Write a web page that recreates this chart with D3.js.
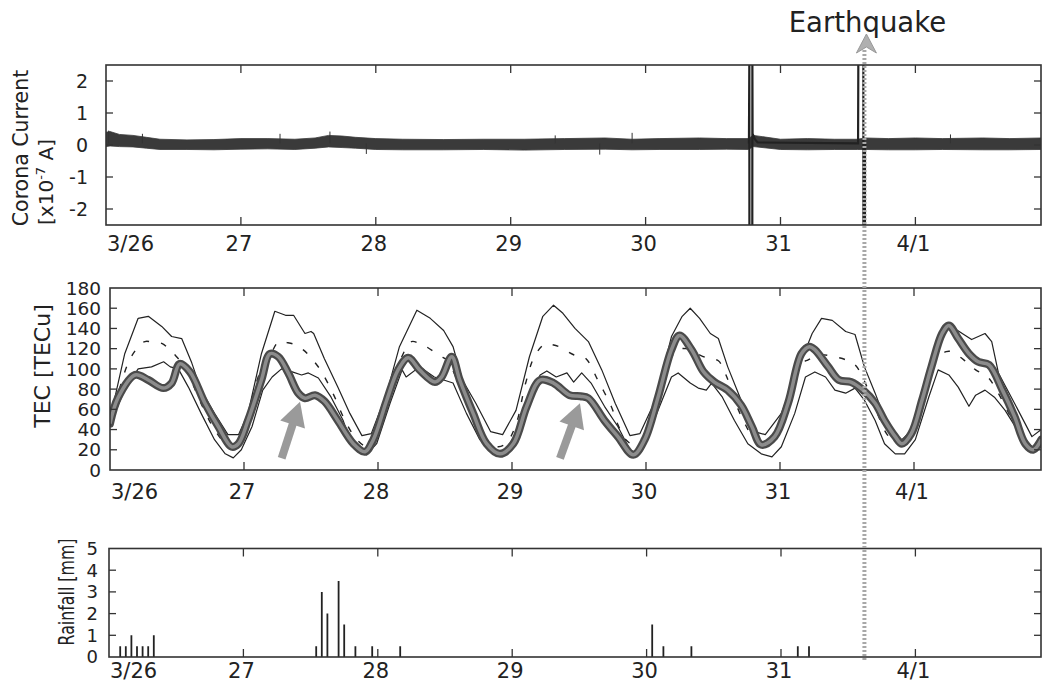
<!DOCTYPE html>
<html><head><meta charset="utf-8">
<script src="https://cdn.jsdelivr.net/npm/d3@7"></script>
<style>
body{margin:0;background:#fff}
svg{display:block}
text{font-family:"DejaVu Sans",Verdana,sans-serif;fill:#222}
</style>
</head><body>
<svg id="chart" width="1042" height="688"></svg>
<script>
// ---------------- DATA ----------------
const dayTicks = [0, 1, 2, 3, 4, 5, 6];            // days after 3/26 00:00
const dayLabels = ["3/26", "27", "28", "29", "30", "31", "4/1"];
const coronaTicks = [-2, -1, 0, 1, 2];
const tecTicks = [0, 20, 40, 60, 80, 100, 120, 140, 160, 180];
const rainTicks = [0, 1, 2, 3, 4, 5];

// Corona current noise band (x10^-7 A), envelope
const coronaDay  = [0, 0.03, 0.1, 0.2, 0.3, 0.4, 0.6, 0.8, 1.0, 1.2, 1.4, 1.55, 1.65, 1.75, 1.85, 2.0, 2.2, 2.5, 2.8, 3.1, 3.4, 3.7, 3.9, 4.1, 4.4, 4.6, 4.76, 4.8, 5.0, 5.2, 5.4, 5.57, 5.63, 5.8, 6.0, 6.2, 6.5, 6.7, 6.94];
const coronaHigh = [0.4, 0.42, 0.33, 0.3, 0.24, 0.18, 0.16, 0.17, 0.2, 0.2, 0.18, 0.22, 0.3, 0.28, 0.24, 0.2, 0.18, 0.17, 0.18, 0.18, 0.2, 0.22, 0.18, 0.2, 0.22, 0.2, 0.2, 0.3, 0.18, 0.2, 0.18, 0.18, 0.22, 0.2, 0.22, 0.2, 0.22, 0.2, 0.22];
const coronaLow  = [-0.05, -0.03, -0.05, -0.06, -0.1, -0.14, -0.14, -0.15, -0.13, -0.12, -0.14, -0.1, -0.06, -0.08, -0.1, -0.14, -0.15, -0.15, -0.14, -0.16, -0.14, -0.13, -0.15, -0.14, -0.14, -0.13, -0.14, -0.05, -0.14, -0.15, -0.14, -0.14, -0.14, -0.15, -0.15, -0.14, -0.15, -0.15, -0.14];
// isolated noise spikes [day, value]
const coronaBlips = [[0.02, 0.45], [0.27, 0.35], [1.29, 0.35], [1.66, 0.42], [1.93, -0.28], [3.33, 0.3], [3.66, -0.3], [3.9, 0.38], [6.26, 0.33]];
// saturated bursts (values beyond ±2.5 are off scale)
const burstDay = [4.766, 4.769, 4.7695, 4.791, 4.7915, 4.793, 4.81, 4.83, 5.575, 5.577, 5.614, 5.6145, 5.626, 5.6265, 5.64];
const burstVal = [0.05, 2.7, -2.7, -2.7, 2.7, 0.35, 0.18, 0.08, 0.05, 2.7, 2.7, -2.7, -2.7, 0.05, 0.05];

// TEC [TECu]  [day, value]
const tecObserved = [[0,46],[0.062,72],[0.187,94],[0.286,89],[0.398,81],[0.46,86],[0.52,105],[0.597,97],[0.709,66],[0.808,43],[0.908,23],[0.958,26],[1.03,49],[1.13,89],[1.194,115],[1.256,112],[1.33,96],[1.405,76],[1.455,71],[1.53,74],[1.6,68],[1.70,49],[1.816,26],[1.903,18],[1.965,30],[2.065,69],[2.15,99],[2.226,111],[2.31,99],[2.425,87],[2.475,92],[2.55,112],[2.61,89],[2.71,56],[2.81,26],[2.91,16],[3.01,26],[3.11,63],[3.21,89],[3.31,86],[3.43,74],[3.51,73],[3.57,71],[3.69,49],[3.79,33],[3.905,15],[3.99,30],[4.09,72],[4.19,119],[4.25,133],[4.34,119],[4.43,97],[4.51,87],[4.61,79],[4.71,64],[4.79,43],[4.86,25],[4.96,33],[5.06,66],[5.16,115],[5.22,122],[5.26,119],[5.36,102],[5.44,89],[5.53,87],[5.62,79],[5.71,66],[5.78,49],[5.86,33],[5.91,26],[5.98,36],[6.06,69],[6.13,102],[6.21,135],[6.26,143],[6.33,130],[6.41,115],[6.48,107],[6.56,104],[6.66,79],[6.75,53],[6.83,26],[6.89,20],[6.95,30]];
const tecMedian = [[0,45],[0.07,80],[0.14,107],[0.2,120],[0.26,127],[0.33,126],[0.39,125],[0.45,118],[0.49,113],[0.55,103],[0.62,84],[0.7,60],[0.78,40],[0.86,27],[0.93,25],[1.0,40],[1.07,76],[1.13,100],[1.19,112],[1.26,127],[1.32,126],[1.38,124],[1.44,119],[1.48,114],[1.57,99],[1.67,74],[1.75,50],[1.83,32],[1.9,24],[1.96,26],[2.03,45],[2.1,85],[2.17,110],[2.25,127],[2.31,125],[2.36,122],[2.46,113],[2.52,108],[2.58,92],[2.66,66],[2.74,44],[2.82,28],[2.9,23],[2.96,27],[3.03,45],[3.1,85],[3.17,113],[3.25,125],[3.3,124],[3.35,122],[3.46,114],[3.545,111],[3.64,89],[3.74,63],[3.79,45],[3.85,30],[3.92,24],[3.98,28],[4.05,50],[4.12,90],[4.19,112],[4.24,119],[4.3,120],[4.38,115],[4.47,110],[4.54,108],[4.6,93],[4.66,69],[4.73,48],[4.8,32],[4.88,25],[4.95,28],[5.03,48],[5.1,85],[5.16,105],[5.21,109],[5.3,114],[5.37,113],[5.49,109],[5.56,104],[5.66,79],[5.73,55],[5.8,35],[5.88,26],[5.95,30],[6.03,52],[6.1,90],[6.17,110],[6.24,117],[6.28,117],[6.39,107],[6.46,99],[6.55,92],[6.62,78],[6.7,58],[6.78,38],[6.86,24],[6.92,25],[6.95,28]];
const tecUpper = [[0.0,48],[0.01,56],[0.11,115],[0.21,150],[0.286,152],[0.386,142],[0.46,132],[0.535,130],[0.61,106],[0.68,79],[0.78,56],[0.88,35],[0.96,35],[1.03,56],[1.13,115],[1.23,157],[1.31,153],[1.37,153],[1.455,135],[1.5,137],[1.52,135],[1.60,110],[1.70,82],[1.79,56],[1.88,34],[1.95,36],[2.065,76],[2.16,122],[2.29,158],[2.39,150],[2.49,138],[2.56,122],[2.63,89],[2.73,66],[2.84,38],[2.93,35],[3.03,59],[3.13,112],[3.23,152],[3.31,163],[3.38,155],[3.47,140],[3.57,127],[3.67,99],[3.77,66],[3.88,34],[3.955,36],[4.07,69],[4.19,132],[4.27,152],[4.33,160],[4.40,150],[4.48,135],[4.54,130],[4.61,102],[4.71,69],[4.81,38],[4.89,35],[5.01,56],[5.14,102],[5.24,135],[5.31,150],[5.39,148],[5.49,137],[5.56,134],[5.63,102],[5.71,76],[5.81,41],[5.91,30],[6.01,43],[6.11,96],[6.21,138],[6.28,142],[6.36,135],[6.43,129],[6.53,135],[6.58,127],[6.63,96],[6.75,66],[6.88,33],[6.95,40]];
const tecLower = [[0.0,45],[0.01,49],[0.11,79],[0.21,100],[0.31,102],[0.40,107],[0.45,102],[0.51,100],[0.585,82],[0.68,56],[0.78,30],[0.86,16],[0.92,12],[0.98,20],[1.06,43],[1.14,79],[1.21,92],[1.28,100],[1.36,97],[1.43,94],[1.48,96],[1.555,91],[1.65,72],[1.74,49],[1.79,30],[1.915,15],[1.99,26],[2.09,66],[2.18,99],[2.21,92],[2.31,102],[2.42,92],[2.49,89],[2.56,86],[2.66,56],[2.76,30],[2.86,16],[2.93,15],[3.03,36],[3.13,72],[3.21,94],[3.26,98],[3.33,92],[3.41,96],[3.46,87],[3.52,96],[3.59,86],[3.69,63],[3.79,43],[3.88,20],[3.94,16],[4.02,36],[4.12,69],[4.19,92],[4.24,96],[4.33,86],[4.39,81],[4.45,79],[4.49,86],[4.57,72],[4.66,49],[4.76,26],[4.86,16],[4.94,13],[5.01,23],[5.11,56],[5.19,92],[5.26,97],[5.34,92],[5.41,79],[5.49,76],[5.56,81],[5.63,69],[5.71,49],[5.78,26],[5.86,16],[5.93,16],[6.01,30],[6.11,72],[6.18,99],[6.26,94],[6.33,82],[6.41,63],[6.46,74],[6.53,79],[6.60,72],[6.68,59],[6.77,40],[6.88,23],[6.95,23]];
// annotation arrows in TEC panel: [tailDay, tailVal, tipDay, tipVal]
const tecArrows = [[1.281, 11.6, 1.418, 67.5], [3.358, 11.6, 3.507, 66]];

// Rainfall: hour after 3/26 00:00, amount [mm]
const rainHour = [2, 3, 4, 5, 6, 7, 8, 37, 38, 39, 41, 42, 44, 47, 52, 97, 99, 104, 123, 125];
const rainMm   = [0.5, 0.5, 1, 0.5, 0.5, 0.5, 1, 0.5, 3, 2, 3.5, 1.5, 0.5, 0.5, 0.5, 1.5, 0.5, 0.5, 0.5, 0.5];

const quakeDay = 5.63;

// ---------------- LAYOUT ----------------
const svg = d3.select("#chart");
const P = {
  top: {left: 106, right: 1041, pxDay: 134.9, top: 65, bottom: 225},
  mid: {left: 110, right: 1041, pxDay: 134.0, top: 288, bottom: 470},
  bot: {left: 109, right: 1041, pxDay: 134.4, top: 548.5, bottom: 657}
};
function xScale(p) { return d3.scaleLinear().domain([0, 7]).range([p.left, p.left + 7 * p.pxDay]); }
const xT = xScale(P.top), xM = xScale(P.mid), xB = xScale(P.bot);
const yT = d3.scaleLinear().domain([-2.5, 2.5]).range([P.top.bottom, P.top.top]);
const yM = d3.scaleLinear().domain([0, 180]).range([P.mid.bottom, P.mid.top]);
const yB = d3.scaleLinear().domain([0, 5]).range([P.bot.bottom, P.bot.top]);

const defs = svg.append("defs");
function clip(id, p) {
  defs.append("clipPath").attr("id", id).append("rect")
    .attr("x", p.left).attr("y", p.top).attr("width", p.right - p.left).attr("height", p.bottom - p.top);
  return "url(#" + id + ")";
}

function frame(p, x, y, yTickVals, opts) {
  const g = svg.append("g");
  dayTicks.filter(d => d > 0).forEach(d => {
    g.append("line").attr("x1", x(d)).attr("x2", x(d)).attr("y1", p.bottom).attr("y2", p.bottom - 8)
      .attr("stroke", "#333").attr("stroke-width", 1.3);
    g.append("line").attr("x1", x(d)).attr("x2", x(d)).attr("y1", p.top).attr("y2", p.top + 8)
      .attr("stroke", "#333").attr("stroke-width", 1.3);
  });
  yTickVals.forEach(v => {
    g.append("line").attr("x1", p.left).attr("x2", p.left + 7).attr("y1", y(v)).attr("y2", y(v))
      .attr("stroke", "#333").attr("stroke-width", 1.3);
    g.append("line").attr("x1", p.right).attr("x2", p.right - 7).attr("y1", y(v)).attr("y2", y(v))
      .attr("stroke", "#333").attr("stroke-width", 1.3);
  });
  g.append("rect").attr("x", p.left).attr("y", p.top).attr("width", p.right - p.left).attr("height", p.bottom - p.top)
    .attr("fill", "none").attr("stroke", "#333").attr("stroke-width", 1.6);
  dayTicks.forEach((d, i) => {
    g.append("text").attr("x", i === 0 ? x(d) + 1 : x(d) - 2).attr("y", opts.xLabelY)
      .attr("text-anchor", i === 0 ? "start" : "middle").attr("font-size", 21).text(dayLabels[i]);
  });
  opts.yLabels.forEach(v => {
    g.append("text").attr("x", opts.yLabelX).attr("y", y(v)).attr("dy", "0.36em")
      .attr("text-anchor", "end").attr("font-size", opts.yFont).text(v);
  });
}

// ---------- Top panel: corona current ----------
const cTop = clip("clipTop", P.top);
const band = coronaDay.map((d, i) => ({d, hi: coronaHigh[i], lo: coronaLow[i]}));
const gTop = svg.append("g").attr("clip-path", cTop);
gTop.append("path").datum(band)
  .attr("d", d3.area().x(b => xT(b.d)).y0(b => yT(b.lo)).y1(b => yT(b.hi)))
  .attr("fill", "#3a3a3a").attr("stroke", "#3a3a3a").attr("stroke-width", 0.8);
coronaBlips.forEach(b => {
  gTop.append("line").attr("x1", xT(b[0])).attr("x2", xT(b[0])).attr("y1", yT(0.05)).attr("y2", yT(b[1]))
    .attr("stroke", "#333").attr("stroke-width", 1);
});
gTop.append("path").datum(burstDay.map((d, i) => [d, burstVal[i]]))
  .attr("d", d3.line().x(d => xT(d[0])).y(d => yT(d[1])))
  .attr("fill", "none").attr("stroke", "#222").attr("stroke-width", 2.2);
frame(P.top, xT, yT, coronaTicks, {xLabelY: 251, yLabelX: 88, yFont: 19, yLabels: coronaTicks.slice().reverse()});

svg.append("text").attr("transform", "translate(28,148) rotate(-90)").attr("text-anchor", "middle")
  .attr("font-size", 20.5).text("Corona Current");
const t2 = svg.append("text").attr("transform", "translate(53,182) rotate(-90)").attr("text-anchor", "middle")
  .attr("font-size", 20);
t2.append("tspan").text("[x10");
t2.append("tspan").attr("font-size", 13).attr("dy", -8).text("-7");
t2.append("tspan").attr("dy", 8).text(" A]");

// ---------- Middle panel: TEC ----------
const cMid = clip("clipMid", P.mid);
const gMid = svg.append("g").attr("clip-path", cMid);
const lineM = d3.line().x(d => xM(d[0])).y(d => yM(d[1]));
const smoothM = d3.line().x(d => xM(d[0])).y(d => yM(d[1])).curve(d3.curveCatmullRom.alpha(0.5));
[tecUpper, tecLower].forEach(s => {
  gMid.append("path").datum(s).attr("d", lineM).attr("fill", "none")
    .attr("stroke", "#222").attr("stroke-width", 1.2).attr("stroke-linejoin", "round");
});
gMid.append("path").datum(tecMedian).attr("d", smoothM).attr("fill", "none")
  .attr("stroke", "#222").attr("stroke-width", 1.4).attr("stroke-dasharray", "6,12");
gMid.append("path").datum(tecObserved).attr("d", smoothM).attr("fill", "none")
  .attr("stroke", "#4a4a4a").attr("stroke-width", 8).attr("stroke-linejoin", "round").attr("stroke-linecap", "round");
gMid.append("path").datum(tecObserved).attr("d", smoothM).attr("fill", "none")
  .attr("stroke", "#8c8c8c").attr("stroke-width", 3.5).attr("stroke-linejoin", "round");
tecArrows.forEach(a => {
  const x1 = xM(a[0]), y1 = yM(a[1]), x2 = xM(a[2]), y2 = yM(a[3]);
  const L = Math.hypot(x2 - x1, y2 - y1), ux = (x2 - x1) / L, uy = (y2 - y1) / L;
  const nx = -uy, ny = ux, hl = 24, hw = 13;
  gMid.append("line").attr("x1", x1).attr("y1", y1).attr("x2", x2 - ux * (hl - 4)).attr("y2", y2 - uy * (hl - 4))
    .attr("stroke", "#9a9a9a").attr("stroke-width", 8);
  const bx = x2 - ux * hl, by = y2 - uy * hl;
  gMid.append("path").attr("d", `M${x2},${y2}L${bx + nx * hw},${by + ny * hw}L${bx - nx * hw},${by - ny * hw}Z`)
    .attr("fill", "#9a9a9a");
});
frame(P.mid, xM, yM, tecTicks.slice(1, -1), {xLabelY: 499, yLabelX: 101, yFont: 18.5, yLabels: tecTicks});
svg.append("text").attr("transform", "translate(50,366) rotate(-90)").attr("text-anchor", "middle")
  .attr("font-size", 22).text("TEC [TECu]");

// ---------- Bottom panel: rainfall ----------
const cBot = clip("clipBot", P.bot);
const gBot = svg.append("g").attr("clip-path", cBot);
rainHour.forEach((h, i) => {
  gBot.append("line").attr("x1", xB(h / 24)).attr("x2", xB(h / 24)).attr("y1", yB(0)).attr("y2", yB(rainMm[i]))
    .attr("stroke", "#222").attr("stroke-width", 1.8);
});
frame(P.bot, xB, yB, rainTicks.slice(1, -1), {xLabelY: 678, yLabelX: 98, yFont: 18, yLabels: rainTicks});
const rainLabel = svg.append("text").attr("text-anchor", "middle").attr("font-size", 22).text("Rainfall [mm]");
const rainLen = rainLabel.node().getComputedTextLength() || 150;
rainLabel.attr("transform", `translate(74,592) rotate(-90) scale(${107 / rainLen},1)`);

// ---------- Earthquake marker ----------
const qx = xM(quakeDay);
svg.append("line").attr("x1", qx).attr("x2", qx).attr("y1", 50).attr("y2", 660)
  .attr("stroke", "#a8a8a8").attr("stroke-width", 4).attr("stroke-dasharray", "2,2");
svg.append("path").attr("d", `M${qx + 2},34L${qx + 12},53L${qx + 2},47L${qx - 8},53Z`)
  .attr("fill", "#b0b0b0").attr("stroke", "#999").attr("stroke-width", 1);
svg.append("text").attr("x", qx + 3).attr("y", 32).attr("text-anchor", "middle").attr("font-size", 27.5).text("Earthquake");
</script>
</body></html>
